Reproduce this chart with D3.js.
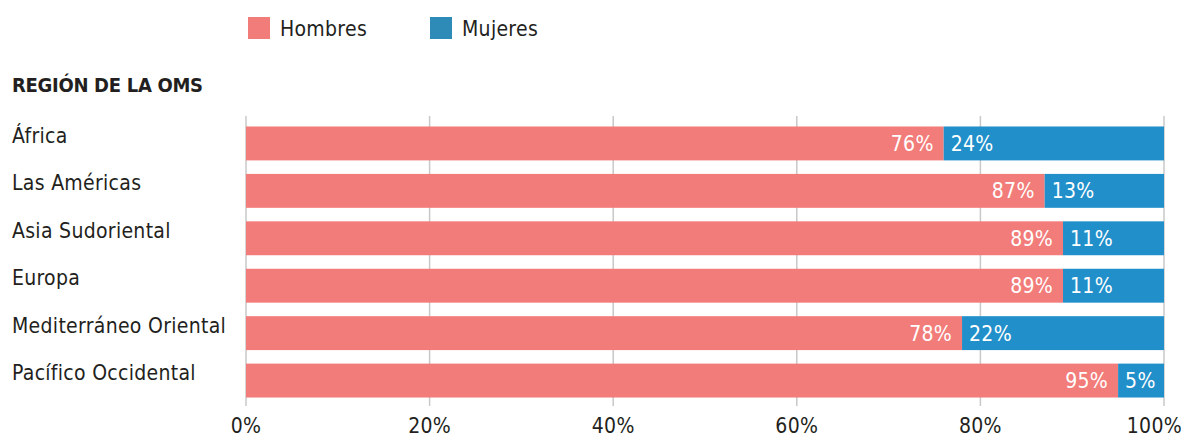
<!DOCTYPE html>
<html>
<head>
<meta charset="utf-8">
<script src="https://cdn.jsdelivr.net/npm/d3@7"></script>
<style>
  body { margin: 0; background: #fff; }
  svg text { font-family: "DejaVu Sans Condensed", "Liberation Sans Narrow", sans-serif; }
</style>
</head>
<body>
<div id="chart"></div>
<script>
/* Stacked horizontal bars — men / women share by WHO region */

const regions = ['África', 'Las Américas', 'Asia Sudoriental', 'Europa', 'Mediterráneo Oriental', 'Pacífico Occidental'];
const hombres = [76, 87, 89, 89, 78, 95];
const mujeres = [24, 13, 11, 11, 22, 5];
const seriesNames = ['Hombres', 'Mujeres'];
const tickValues = [0, 20, 40, 60, 80, 100];

const W = 1185, H = 441;
const COLORS = { Hombres: '#f27c79', Mujeres: '#218fca' };
const LEGEND_COLORS = { Hombres: '#f27c79', Mujeres: '#2e8bb8' };
const FS = 21;

const svg = d3.select('#chart').append('svg')
  .attr('width', W).attr('height', H);

const x = d3.scaleLinear().domain([0, 100]).range([246, 1164]);
const y = d3.scaleBand().domain(regions).range([117, 407]).paddingInner(0.285).paddingOuter(0.2);

// grid lines
svg.append('g').selectAll('line').data(tickValues).join('line')
  .attr('x1', d => x(d)).attr('x2', d => x(d))
  .attr('y1', 116).attr('y2', 406)
  .attr('stroke', '#c8c8c8').attr('stroke-width', 1.5);

// tick labels (last one pulled in so it stays on the page)
svg.append('g').selectAll('text').data(tickValues).join('text')
  .attr('x', d => d === 100 ? W - 3 : x(d)).attr('y', 433)
  .attr('text-anchor', d => d === 100 ? 'end' : 'middle')
  .attr('font-size', FS).attr('fill', '#231f20')
  .attr('letter-spacing', 0.3)
  .text(d => d + '%');

// bars
const rows = regions.map((r, i) => ({ region: r, Hombres: hombres[i], Mujeres: mujeres[i] }));
const stacked = d3.stack().keys(seriesNames)(rows);

svg.append('g').selectAll('g').data(stacked).join('g')
  .attr('fill', s => COLORS[s.key])
  .selectAll('rect').data(s => s).join('rect')
  .attr('x', d => x(d[0]))
  .attr('y', d => y(d.data.region))
  .attr('width', d => x(d[1]) - x(d[0]))
  .attr('height', y.bandwidth());

// value labels
const lab = svg.append('g').attr('font-size', FS).attr('fill', '#fff').attr('letter-spacing', 0.3);
lab.selectAll('text.h').data(rows).join('text')
  .attr('class', 'h')
  .attr('x', d => x(d.Hombres) - 10)
  .attr('y', d => y(d.region) + y.bandwidth() / 2)
  .attr('dy', '0.36em')
  .attr('text-anchor', 'end')
  .text(d => d.Hombres + '%');
lab.selectAll('text.m').data(rows).join('text')
  .attr('class', 'm')
  .attr('x', d => x(d.Hombres) + 7)
  .attr('y', d => y(d.region) + y.bandwidth() / 2)
  .attr('dy', '0.36em')
  .text(d => d.Mujeres + '%');

// category labels
svg.append('g').selectAll('text').data(regions).join('text')
  .attr('x', 12)
  .attr('y', d => y(d) + y.bandwidth() / 2 - 8)
  .attr('dy', '0.36em')
  .attr('font-size', FS).attr('fill', '#231f20')
  .attr('letter-spacing', 0.3)
  .text(d => d);

// section heading
svg.append('text')
  .attr('x', 12).attr('y', 92)
  .attr('font-size', 20).attr('font-weight', 'bold').attr('fill', '#231f20')
  .attr('letter-spacing', -0.3)
  .text('REGIÓN DE LA OMS');

// legend
const leg = svg.append('g').selectAll('g').data(seriesNames).join('g')
  .attr('transform', (d, i) => `translate(${248 + i * 182},17)`);
leg.append('rect').attr('width', 22).attr('height', 22).attr('fill', d => LEGEND_COLORS[d]);
leg.append('text')
  .attr('x', 32).attr('y', 11).attr('dy', '0.36em')
  .attr('font-size', FS).attr('fill', '#231f20')
  .attr('letter-spacing', 0.3)
  .text(d => d);
</script>
</body>
</html>
